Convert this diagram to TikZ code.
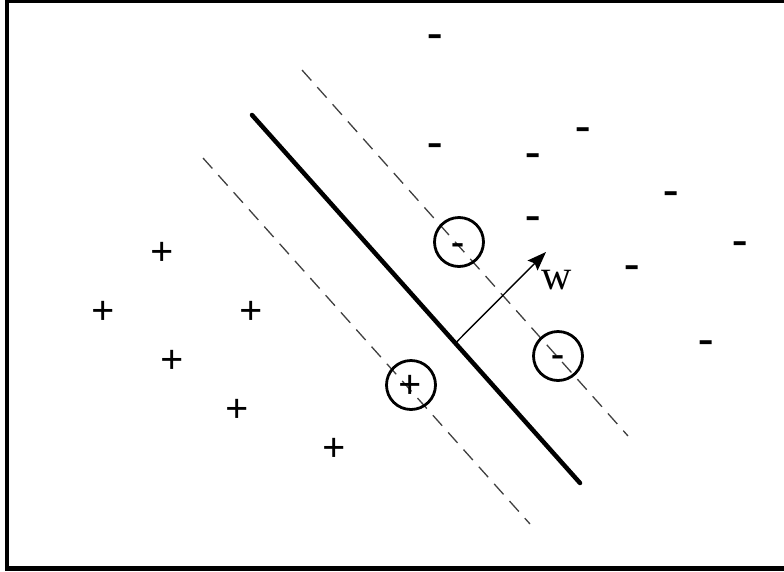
\documentclass[tikz,border=0pt]{standalone}
\usepackage{fontspec}
\setmainfont{Liberation Serif}
\usetikzlibrary{arrows.meta}

\tikzset{
  plusmark/.style={font=\fontsize{41}{41}\selectfont\bfseries, inner sep=0pt, anchor=base, yshift=-10.5pt},
  minusmark/.style={font=\fontsize{46}{46}\selectfont\bfseries, inner sep=0pt, anchor=base, yshift=-10pt},
  svcircle/.style={draw, circle, line width=2.8pt, minimum size=49pt, inner sep=0pt},
  margin/.style={black!75, line width=1.3pt, dash pattern=on 14pt off 9pt}
}

\begin{document}
\begin{tikzpicture}[x=1pt, y=-1pt, >=Stealth]
  \clip (0,0) rectangle (784,571);
  \draw[line width=4.5pt] (7,1) rectangle (800,568.5);

  % hyperplane and margins
  \coordinate (hypA) at (252,115);  \coordinate (hypB) at (580,483);
  \coordinate (upA) at (302,70);    \coordinate (upB) at (628,436);
  \coordinate (loA) at (203,158);   \coordinate (loB) at (530,524);
  \draw[line width=4.5pt, line cap=round] (hypA) -- (hypB);
  \draw[margin] (upA) -- (upB);
  \draw[margin] (loA) -- (loB);

  % normal vector
  \path (hypA) -- (hypB) coordinate[pos=0.62] (foot);
  \coordinate (tip) at (546,252);
  \draw[-{Stealth[length=19pt, width=14pt, inset=3pt]}, line width=1.4pt] (foot) -- (tip);
  \node (w) at (557,280) {\fontsize{42}{42}\selectfont w};

  % positive class
  \node[plusmark] (p1) at (162,255) {+};
  \node[plusmark] (p2) at (103,314) {+};
  \node[plusmark] (p3) at (251,314) {+};
  \node[plusmark] (p4) at (172,363) {+};
  \node[plusmark] (p5) at (237,412) {+};
  \node[plusmark] (p6) at (334,451) {+};
  \node[plusmark] (p7) at (410,388) {+};

  % negative class
  \node[minusmark] (m1) at (435,37) {-};
  \node[minusmark] (m2) at (583,130) {-};
  \node[minusmark] (m3) at (435,146) {-};
  \node[minusmark] (m4) at (533,156) {-};
  \node[minusmark] (m5) at (533,219) {-};
  \node[minusmark] (m6) at (671,194) {-};
  \node[minusmark] (m7) at (740,244) {-};
  \node[minusmark] (m8) at (632,268) {-};
  \node[minusmark] (m9) at (706,343) {-};
  \node[minusmark, scale=0.85] (m10) at (458,244) {-};
  \node[minusmark, scale=0.85] (m11) at (558,356) {-};

  % support vectors
  \node[svcircle] (sv1) at (411,385) {};
  \node[svcircle] (sv2) at (459,242) {};
  \node[svcircle] (sv3) at (558,356) {};
\end{tikzpicture}
\end{document}
